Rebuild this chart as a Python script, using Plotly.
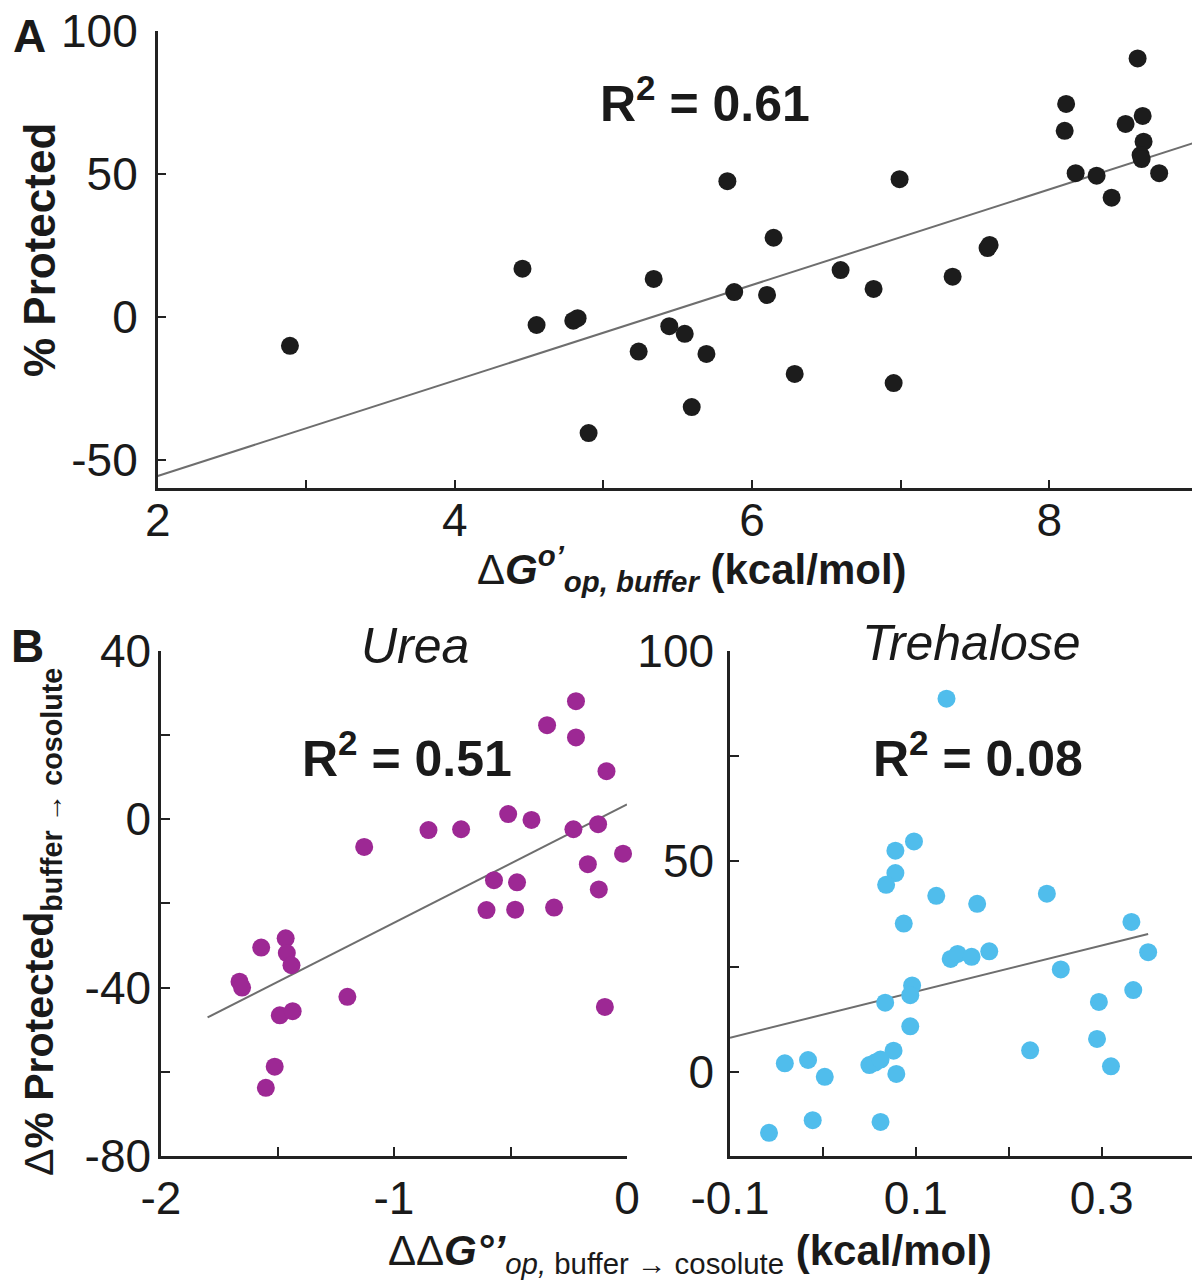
import plotly.graph_objects as go

# ---- Panel A: % Protected vs dG op, buffer ----
a_x = [2.89, 4.455, 4.55, 4.797, 4.826, 4.90, 5.237, 5.338, 5.443, 5.547, 5.594, 5.693,
       5.834, 5.880, 6.101, 6.145, 6.287, 6.596, 6.818, 6.953, 6.993, 7.35, 7.585, 7.599,
       8.114, 8.104, 8.178, 8.319, 8.42, 8.514, 8.595, 8.629, 8.635, 8.615, 8.622, 8.74]
a_y = [-10.2, 16.8, -2.9, -1.4, -0.5, -40.7, -12.2, 13.2, -3.3, -6.0, -31.6, -13.0,
       47.4, 8.6, 7.6, 27.6, -20.0, 16.3, 9.7, -23.2, 48.1, 14.0, 24.0, 25.1,
       74.4, 65.0, 50.2, 49.3, 41.6, 67.4, 90.3, 70.2, 61.2, 56.5, 55.1, 50.2]
a_fit_x = [2, 9]
a_fit_y = [-55.7, 61.2]

# ---- Panel B: urea ----
urea_x = [-0.219, -0.343, -0.219, -0.088, -0.51, -0.41, -0.852, -0.712, -0.23, -0.124,
          -1.128, -0.017, -0.168, -0.571, -0.472, -0.121, -0.603, -0.48, -0.313,
          -1.465, -1.57, -1.46, -1.44, -1.663, -1.652, -1.20, -1.49, -1.435, -0.095,
          -1.512, -1.55]
urea_y = [28.0, 22.3, 19.4, 11.4, 1.2, -0.2, -2.6, -2.4, -2.4, -1.2,
          -6.6, -8.2, -10.7, -14.5, -15.0, -16.7, -21.6, -21.5, -21.0,
          -28.3, -30.5, -31.8, -34.7, -38.6, -40.0, -42.2, -46.6, -45.6, -44.6,
          -58.8, -63.8]
urea_fit_x = [-1.8, 0.0]
urea_fit_y = [-47.1, 3.5]

# ---- Panel B: trehalose ----
treh_x = [0.133, 0.098, 0.078, 0.078, 0.068, 0.122, 0.166, 0.241, 0.087, 0.332,
          0.35, 0.1375, 0.145, 0.16, 0.179, 0.256, 0.096, 0.094, 0.067, 0.334,
          0.297, 0.094, 0.295, 0.223, 0.076, -0.016, -0.041, 0.05, 0.056, 0.062,
          0.31, 0.002, 0.079, -0.011, 0.062, -0.058]
treh_y = [88.6, 54.7, 52.5, 47.2, 44.4, 41.8, 39.9, 42.3, 35.2, 35.6,
          28.4, 26.8, 28.0, 27.3, 28.6, 24.3, 20.5, 18.2, 16.4, 19.4,
          16.6, 10.8, 7.8, 5.1, 5.0, 2.8, 2.0, 1.6, 2.2, 2.9,
          1.3, -1.2, -0.5, -11.5, -11.9, -14.5]
treh_fit_x = [-0.1, 0.35]
treh_fit_y = [8.1, 32.7]

BLACK = "#1c1c1c"
PURPLE = "#9d2894"
BLUE = "#50bdec"
LINE = "#6e6e6e"
FONT = "Liberation Sans, Arial, sans-serif"

W = 1200.0
H = 1284.0
OFF = 8  # page body margin offsets the plot div

def px(v):
    return (v - OFF) / W

def py(v):
    return 1 - (v - OFF) / H

fig = go.Figure()

def add_panel(xs, ys, fx, fy, color, xa, ya):
    fig.add_trace(go.Scatter(x=fx, y=fy, mode="lines", line=dict(color=LINE, width=2),
                             xaxis=xa, yaxis=ya, showlegend=False))
    fig.add_trace(go.Scatter(x=xs, y=ys, mode="markers",
                             marker=dict(color=color, size=18, line=dict(width=0)),
                             xaxis=xa, yaxis=ya, showlegend=False, cliponaxis=False))

add_panel(a_x, a_y, a_fit_x, a_fit_y, BLACK, "x", "y")
add_panel(urea_x, urea_y, urea_fit_x, urea_fit_y, PURPLE, "x2", "y2")
add_panel(treh_x, treh_y, treh_fit_x, treh_fit_y, BLUE, "x3", "y3")

axis_common = dict(showline=True, linecolor="#222", linewidth=2.5, ticks="inside",
                   ticklen=9, tickwidth=2, tickcolor="#222", showgrid=False, zeroline=False,
                   automargin=False, ticklabeloverflow="allow",
                   tickfont=dict(family=FONT, size=46, color="#1a1a1a"))

fig.update_layout(
    width=1200, height=1284,
    margin=dict(l=0, r=0, t=0, b=0, autoexpand=False),
    paper_bgcolor="white", plot_bgcolor="white",
    font=dict(family=FONT, color="#1a1a1a"),
    xaxis=dict(domain=[px(157.7), px(1197.8)], range=[2, 9], anchor="y",
               tickvals=[2, 3, 4, 5, 6, 7, 8, 9], ticktext=["2", "", "4", "", "6", "", "8", ""],
               ticklabelstandoff=-10, **axis_common),
    yaxis=dict(domain=[py(488.3), py(30.7)], range=[-60, 100], anchor="x",
               tickvals=[-50, 0, 50, 100], ticktext=["-50", "0", "50", "100"],
               ticklabelstandoff=8, **axis_common),
    xaxis2=dict(domain=[px(161), px(627)], range=[-2, 0], anchor="y2",
                tickvals=[-2, -1.5, -1, -0.5, 0], ticktext=["-2", "", "-1", "", "0"],
                ticklabelstandoff=0, **axis_common),
    yaxis2=dict(domain=[py(1156), py(650.7)], range=[-80, 40], anchor="x2",
                tickvals=[-80, -60, -40, -20, 0, 20, 40],
                ticktext=["-80", "", "-40", "", "0", "", "40"],
                ticklabelstandoff=-2, **axis_common),
    xaxis3=dict(domain=[px(730), px(1194.6)], range=[-0.1, 0.4], anchor="y3",
                tickvals=[-0.1, 0, 0.1, 0.2, 0.3, 0.4],
                ticktext=["-0.1", "", "0.1", "", "0.3", ""],
                ticklabelstandoff=0, **axis_common),
    yaxis3=dict(domain=[py(1156), py(650.7)], range=[-20, 100], anchor="x3",
                tickvals=[0, 25, 50, 75, 100], ticktext=["0", "", "50", "", "100"],
                ticklabelstandoff=4, **axis_common),
)

def ann(text, x, y, size, angle=0, yanchor="middle"):
    fig.add_annotation(text=text, x=px(x), y=py(y), xref="paper", yref="paper",
                       showarrow=False, textangle=angle, xanchor="center", yanchor=yanchor,
                       font=dict(family=FONT, size=size, color="#1a1a1a"))

# panel letters
ann("<b>A</b>", 29, 8, 46, yanchor="top")
ann("<b>B</b>", 27, 646, 46)

# R squared
ann("<b>R<sup>2</sup> = 0.61</b>", 705, 100, 50)
ann("<b>R<sup>2</sup> = 0.51</b>", 407, 755, 50)
ann("<b>R<sup>2</sup> = 0.08</b>", 978, 755, 50)

# subplot titles
ann("<i>Urea</i>", 415, 646, 50)
ann("<i>Trehalose</i>", 971, 643, 50)

# axis titles
ann("<b>% Protected</b>", 40, 250, 44, angle=-90)
ann("Δ<b><i>G<sup>o’</sup><sub>op, buffer</sub></i> (kcal/mol)</b>", 692, 568, 42)
ann("Δ<b>% Protected<sub>buffer → cosolute</sub></b>", 42, 922, 41, angle=-90)
ann("ΔΔ<b><i>G°’</i></b><i><sub>op,</sub></i><sub> buffer → cosolute</sub> <b>(kcal/mol)</b>",
    690, 1253, 42)

fig.write_html("out.html")
